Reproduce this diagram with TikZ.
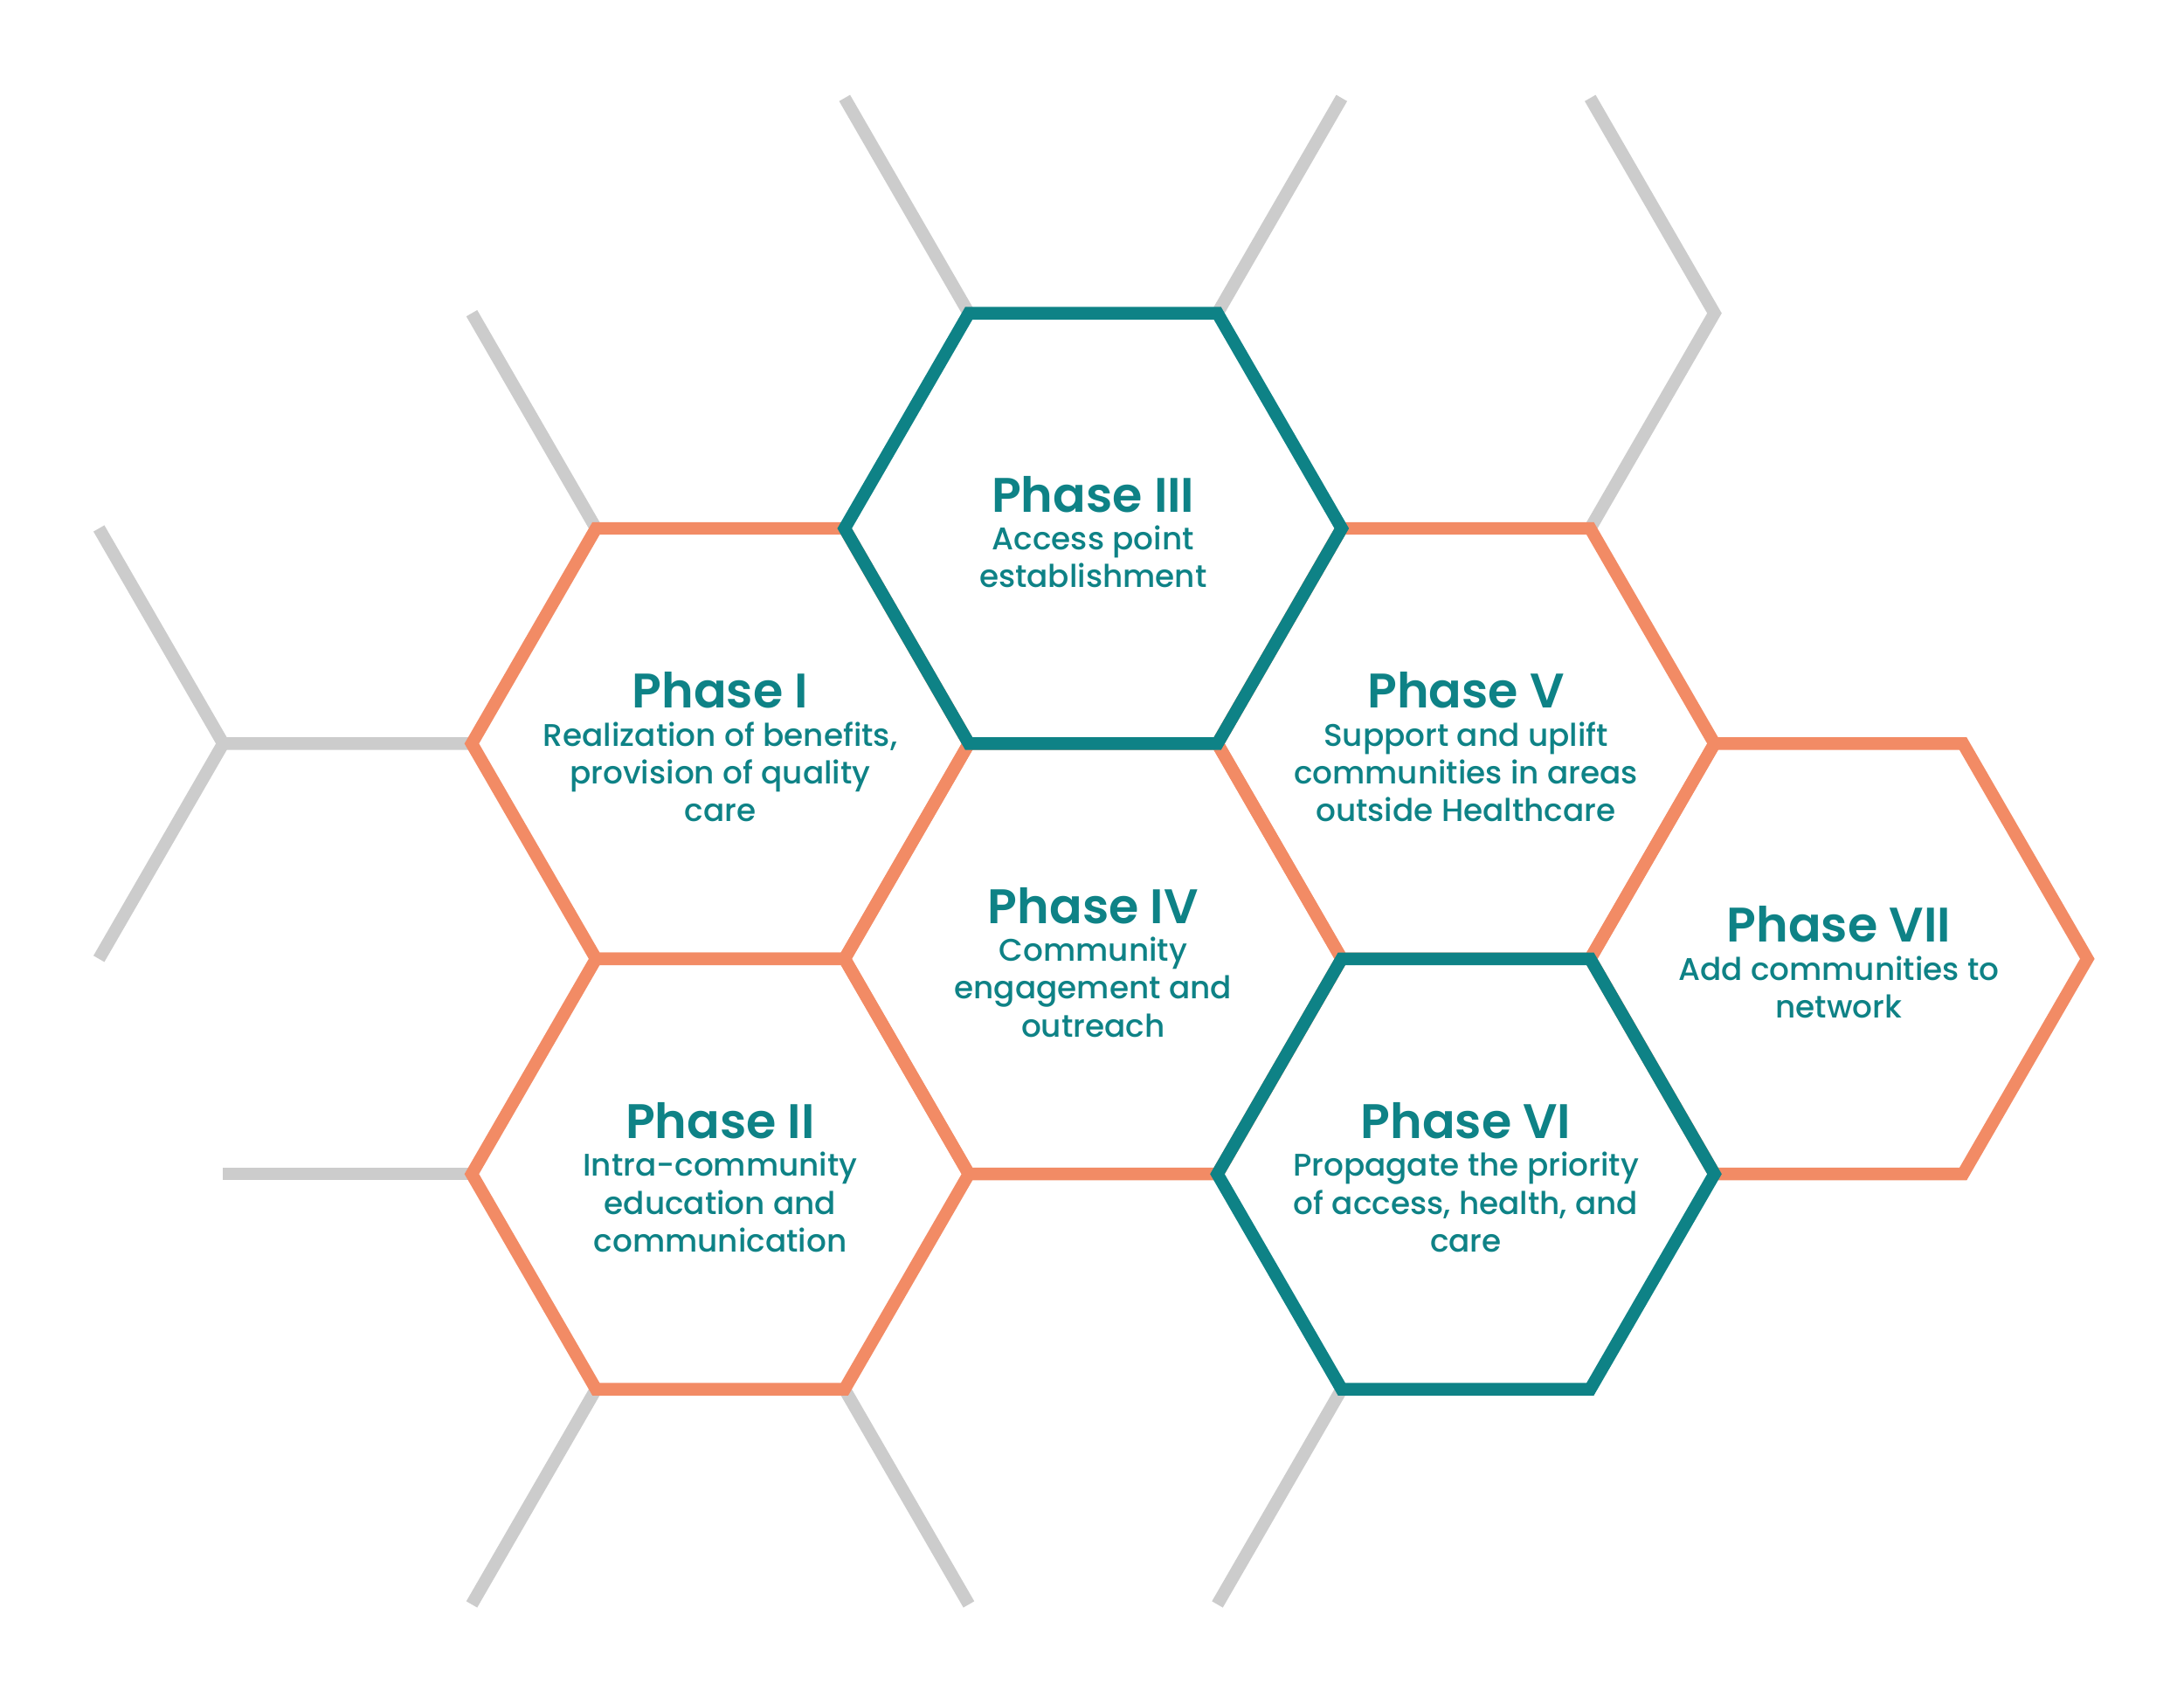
\documentclass[tikz,border=0pt]{standalone}
\usepackage{fontspec}
\setmainfont{Poppins}[UprightFont=* Medium, BoldFont=* SemiBold]
\usetikzlibrary{shapes.geometric,backgrounds}
\definecolor{phteal}{RGB}{14,130,134}
\definecolor{phorange}{RGB}{242,139,101}
\definecolor{phgrey}{RGB}{204,204,204}
\newcommand{\phtitle}[1]{{\fontsize{15.8}{18}\selectfont\bfseries #1}}
\begin{document}
\begin{tikzpicture}[
    hexbox/.style={regular polygon, regular polygon sides=6, minimum size=5.69cm, inner sep=0pt, outer sep=0pt,
        line width=4.1pt, line join=miter},
    warm/.style={hexbox, draw=phorange},
    cool/.style={hexbox, draw=phteal},
    phtext/.style={text=phteal, align=center, yshift=-0.04cm, font=\fontsize{10.2}{12.3}\selectfont},
    spoke/.style={draw=phgrey, line width=4.1pt, line join=miter}]
\useasboundingbox (0,0) rectangle (25,19.5);
% orange cells first
\node[warm] (p1) at (8.245,10.986) {};
\node[warm] (p2) at (8.245,6.058) {};
\node[warm] (p4) at (12.513,8.522) {};
\node[warm] (p5) at (16.78,10.986) {};
\node[warm] (p7) at (21.048,8.522) {};
% teal cells on top of the shared edges
\node[cool] (p3) at (12.513,13.45) {};
\node[cool] (p6) at (16.78,6.058) {};
% texts
\node[phtext] (t1) at (p1) {\phtitle{Phase I}\\Realization of benefits,\\provision of quality\\care};
\node[phtext] (t2) at (p2) {\phtitle{Phase II}\\Intra-community\\education and\\communication};
\node[phtext] (t3) at (p3) {\phtitle{Phase III}\\Access point\\establishment};
\node[phtext] (t4) at (p4) {\phtitle{Phase IV}\\Community\\engagement and\\outreach};
\node[phtext] (t5) at (p5) {\phtitle{Phase V}\\Support and uplift\\communities in areas\\outside Healthcare};
\node[phtext] (t6) at (p6) {\phtitle{Phase VI}\\Propagate the priority\\of access, health, and\\care};
\node[phtext] (t7) at (p7) {\phtitle{Phase VII}\\Add communities to\\network};
% grey spokes behind the cells
\begin{scope}[on background layer]
\draw[spoke] (p3.120) -- ++(120:2.845);
\draw[spoke] (p3.60) -- ++(60:2.845);
\draw[spoke] (p5.60) -- ++(60:2.845) -- ++(120:2.845);
\draw[spoke] (p1.120) -- ++(120:2.845);
\draw[spoke] (p1.180) -- ++(-2.845,0) coordinate (fork) -- ++(120:2.845);
\draw[spoke] (fork) -- ++(240:2.845);
\draw[spoke] (p2.180) -- ++(-2.845,0);
\draw[spoke] (p2.240) -- ++(240:2.845);
\draw[spoke] (p2.300) -- ++(300:2.845);
\draw[spoke] (p6.240) -- ++(240:2.845);
\end{scope}
\end{tikzpicture}
\end{document}
